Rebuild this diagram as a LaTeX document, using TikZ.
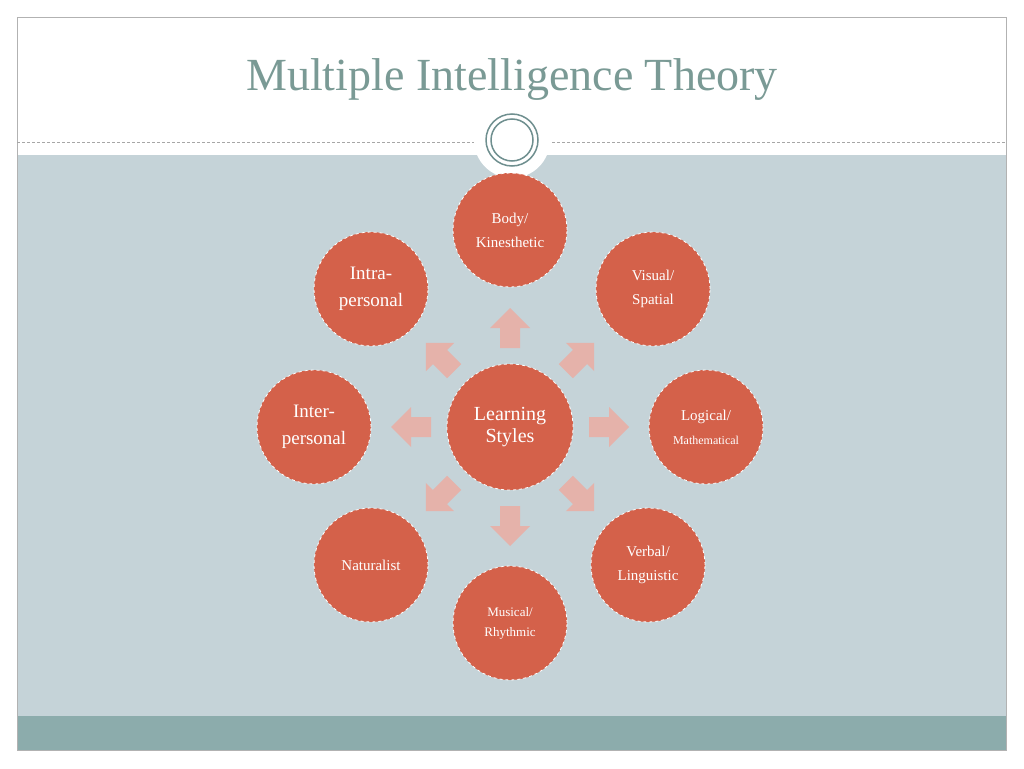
\documentclass[tikz,border=0pt]{standalone}
\usepackage{fontspec}
\setmainfont{Liberation Serif}
\begin{document}
\begin{tikzpicture}[x=1pt,y=-1pt,
  bub/.style={circle,fill=bubred,draw=white,dashed,line width=0.8pt,minimum size=114pt,inner sep=0pt,align=center,text=white,font=\fontsize{15}{24}\selectfont},
  blk/.style={fill=arrpink}]
\definecolor{bubred}{HTML}{D4614A}
\definecolor{arrpink}{HTML}{E5B2AA}
\definecolor{bgblue}{HTML}{C5D3D8}
\definecolor{band}{HTML}{8CACAC}
\definecolor{ttl}{HTML}{7A9A95}
\definecolor{ring}{HTML}{6F8F8F}
\useasboundingbox (0,0) rectangle (1024,768);
\fill[white] (0,0) rectangle (1024,768);
\fill[bgblue] (17,155) rectangle (1006,716);
\fill[band] (17,716) rectangle (1006,750);
\draw[gray!60] (17,17) rectangle (1006,750);
\draw[gray!70,densely dashed] (17,142) -- (1006,142);
\fill[white] (512,140) circle (38);
\draw[ring,line width=1.5pt] (512,140) circle (26);
\draw[ring,line width=1.5pt] (512,140) circle (21);
\node[text=ttl,font=\fontsize{46}{50}\selectfont] (title) at (512,80) {Multiple Intelligence Theory};
\foreach \a in {0,45,...,315}{
  \begin{scope}[shift={(510,427)},rotate=\a]
   \fill[arrpink] (79,-10) -- (99,-10) -- (99,-20) -- (119,0) -- (99,20) -- (99,10) -- (79,10) -- cycle;
  \end{scope}}
\node[bub,minimum size=126pt,font=\fontsize{20}{22}\selectfont] (c) at (510,427) {Learning\\Styles};
\node[bub] (b) at (510,230) {Body/\\Kinesthetic};
\node[bub] (v) at (653,289) {Visual/\\Spatial};
\node[bub] (l) at (706,427) {Logical/\\{\fontsize{12}{20}\selectfont Mathematical}};
\node[bub] (vl) at (648,565) {Verbal/\\Linguistic};
\node[bub,font=\fontsize{13}{20}\selectfont] (m) at (510,623) {Musical/\\Rhythmic};
\node[bub] (n) at (371,565) {Naturalist};
\node[bub,font=\fontsize{19}{27}\selectfont] (ie) at (314,427) {Inter-\\personal};
\node[bub,font=\fontsize{19}{27}\selectfont] (ia) at (371,289) {Intra-\\personal};
\end{tikzpicture}
\end{document}
